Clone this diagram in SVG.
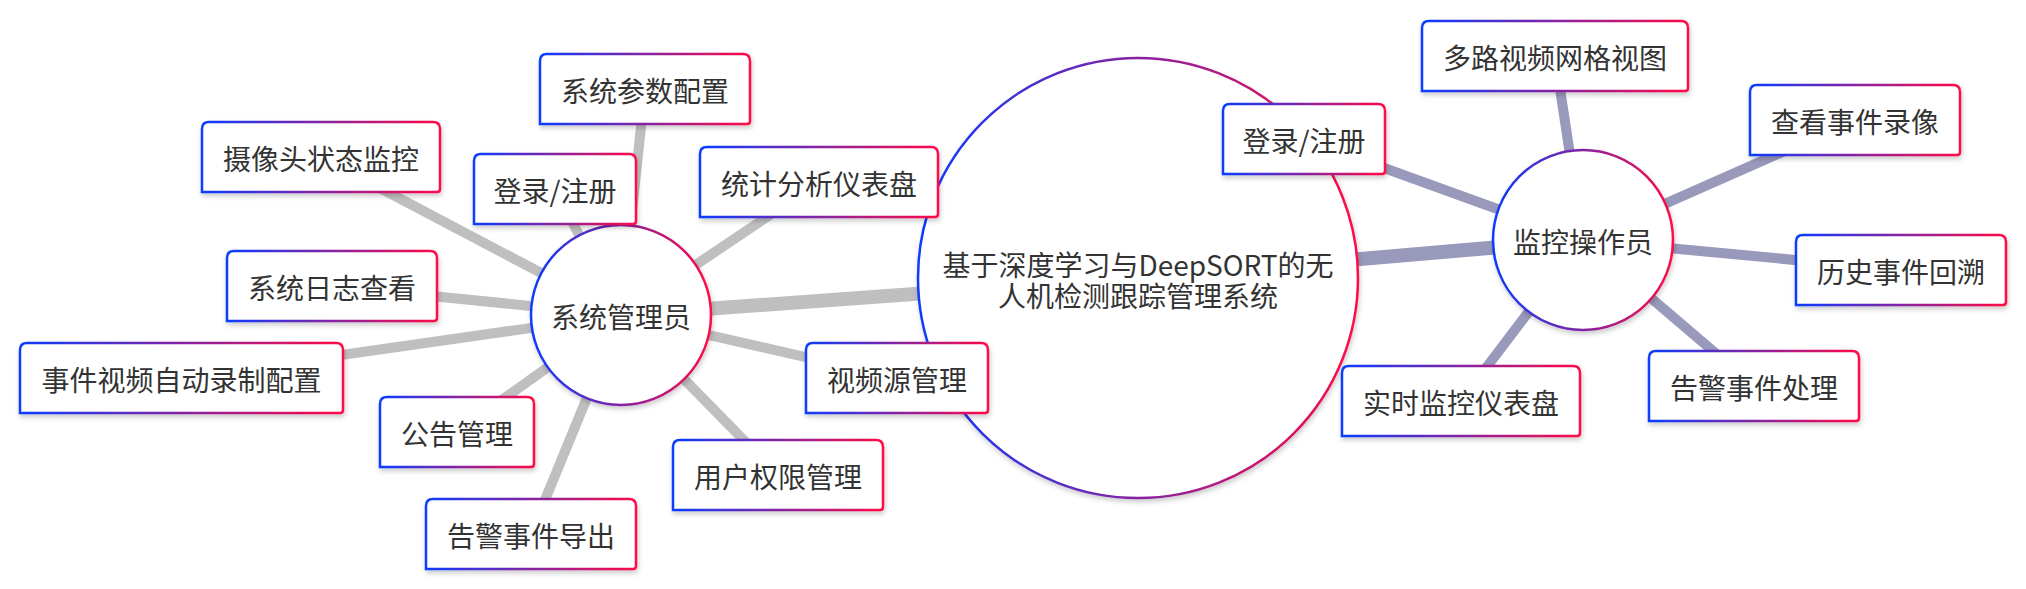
<svg xmlns="http://www.w3.org/2000/svg" width="2026" height="589" viewBox="0 0 2026 589">
<defs>
<linearGradient id="g" x1="0" y1="0" x2="1" y2="0">
<stop offset="0" stop-color="#0a3cff"/>
<stop offset="1" stop-color="#ff0a45"/>
</linearGradient>
<filter id="sh" x="-10%" y="-10%" width="120%" height="130%">
<feDropShadow dx="1" dy="3" stdDeviation="2.5" flood-color="#000" flood-opacity="0.2"/>
</filter>
</defs>
<style>
.n{fill:#fff;stroke:url(#g);stroke-width:2.5;filter:url(#sh)}
.t{font-family:"Noto Sans CJK SC","Noto Sans",sans-serif;font-size:28px;fill:#333;text-anchor:middle;dominant-baseline:central}
.ga{stroke:#bfbfbf;stroke-width:10;fill:none}
.gb{stroke:#9999bb;stroke-width:10;fill:none}
.thick{stroke-width:14}
</style>
<g id="connectors">
<line class="ga thick" x1="621" y1="315" x2="1138" y2="278"/>
<line class="gb thick" x1="1138" y1="278" x2="1583" y2="240"/>
<line class="ga" x1="621" y1="315" x2="645" y2="89"/>
<line class="ga" x1="621" y1="315" x2="321" y2="157"/>
<line class="ga" x1="621" y1="315" x2="555" y2="189"/>
<line class="ga" x1="621" y1="315" x2="819" y2="182"/>
<line class="ga" x1="621" y1="315" x2="332" y2="286"/>
<line class="ga" x1="621" y1="315" x2="181" y2="378"/>
<line class="ga" x1="621" y1="315" x2="457" y2="432"/>
<line class="ga" x1="621" y1="315" x2="531" y2="534"/>
<line class="ga" x1="621" y1="315" x2="778" y2="475"/>
<line class="ga" x1="621" y1="315" x2="897" y2="378"/>
<line class="gb" x1="1583" y1="240" x2="1555" y2="56"/>
<line class="gb" x1="1583" y1="240" x2="1304" y2="139"/>
<line class="gb" x1="1583" y1="240" x2="1855" y2="120"/>
<line class="gb" x1="1583" y1="240" x2="1901" y2="270"/>
<line class="gb" x1="1583" y1="240" x2="1754" y2="386"/>
<line class="gb" x1="1583" y1="240" x2="1461" y2="401"/>
</g>
<g id="root">
<circle class="n" cx="1138" cy="278" r="220"/>
<text class="t" x="1138" y="264">基于深度学习与DeepSORT的无</text>
<text class="t" x="1138" y="295">人机检测跟踪管理系统</text>
</g>
<g id="admin">
<circle class="n" cx="621" cy="315" r="90"/>
<text class="t" x="621" y="316">系统管理员</text>
</g>
<g id="operator">
<circle class="n" cx="1583" cy="240" r="90"/>
<text class="t" x="1583" y="241">监控操作员</text>
</g>
<g id="n-sysparam">
<path class="n" d="M540,124 V61 Q540,54 547,54 H743 Q750,54 750,61 V121 Q750,124 747,124 Z"/>
<text class="t" x="645" y="90">系统参数配置</text>
</g>
<g id="n-camera">
<path class="n" d="M202,192 V129 Q202,122 209,122 H433 Q440,122 440,129 V189 Q440,192 437,192 Z"/>
<text class="t" x="321" y="158">摄像头状态监控</text>
</g>
<g id="n-login-a">
<path class="n" d="M474,224 V161 Q474,154 481,154 H629 Q636,154 636,161 V221 Q636,224 633,224 Z"/>
<text class="t" x="555" y="190">登录/注册</text>
</g>
<g id="n-stats">
<path class="n" d="M700,217 V154 Q700,147 707,147 H931 Q938,147 938,154 V214 Q938,217 935,217 Z"/>
<text class="t" x="819" y="183">统计分析仪表盘</text>
</g>
<g id="n-log">
<path class="n" d="M227,321 V258 Q227,251 234,251 H430 Q437,251 437,258 V318 Q437,321 434,321 Z"/>
<text class="t" x="332" y="287">系统日志查看</text>
</g>
<g id="n-record">
<path class="n" d="M20,413 V350 Q20,343 27,343 H336 Q343,343 343,350 V410 Q343,413 340,413 Z"/>
<text class="t" x="181.5" y="379">事件视频自动录制配置</text>
</g>
<g id="n-notice">
<path class="n" d="M380,467 V404 Q380,397 387,397 H527 Q534,397 534,404 V464 Q534,467 531,467 Z"/>
<text class="t" x="457" y="433">公告管理</text>
</g>
<g id="n-export">
<path class="n" d="M426,569 V506 Q426,499 433,499 H629 Q636,499 636,506 V566 Q636,569 633,569 Z"/>
<text class="t" x="531" y="535">告警事件导出</text>
</g>
<g id="n-perm">
<path class="n" d="M673,510 V447 Q673,440 680,440 H876 Q883,440 883,447 V507 Q883,510 880,510 Z"/>
<text class="t" x="778" y="476">用户权限管理</text>
</g>
<g id="n-source">
<path class="n" d="M806,413 V350 Q806,343 813,343 H981 Q988,343 988,350 V410 Q988,413 985,413 Z"/>
<text class="t" x="897" y="379">视频源管理</text>
</g>
<g id="n-grid">
<path class="n" d="M1422,91 V28 Q1422,21 1429,21 H1681 Q1688,21 1688,28 V88 Q1688,91 1685,91 Z"/>
<text class="t" x="1555" y="57">多路视频网格视图</text>
</g>
<g id="n-login-b">
<path class="n" d="M1223,174 V111 Q1223,104 1230,104 H1378 Q1385,104 1385,111 V171 Q1385,174 1382,174 Z"/>
<text class="t" x="1304" y="140">登录/注册</text>
</g>
<g id="n-view">
<path class="n" d="M1750,155 V92 Q1750,85 1757,85 H1953 Q1960,85 1960,92 V152 Q1960,155 1957,155 Z"/>
<text class="t" x="1855" y="121">查看事件录像</text>
</g>
<g id="n-history">
<path class="n" d="M1796,305 V242 Q1796,235 1803,235 H1999 Q2006,235 2006,242 V302 Q2006,305 2003,305 Z"/>
<text class="t" x="1901" y="271">历史事件回溯</text>
</g>
<g id="n-handle">
<path class="n" d="M1649,421 V358 Q1649,351 1656,351 H1852 Q1859,351 1859,358 V418 Q1859,421 1856,421 Z"/>
<text class="t" x="1754" y="387">告警事件处理</text>
</g>
<g id="n-dash">
<path class="n" d="M1342,436 V373 Q1342,366 1349,366 H1573 Q1580,366 1580,373 V433 Q1580,436 1577,436 Z"/>
<text class="t" x="1461" y="402">实时监控仪表盘</text>
</g>
</svg>
